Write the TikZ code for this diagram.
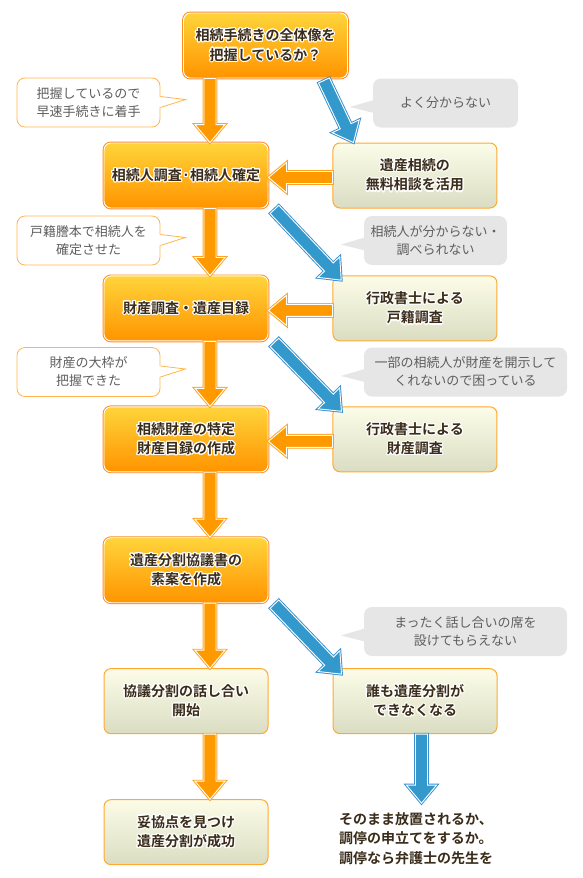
\documentclass[tikz,border=0pt]{standalone}
\usepackage{fontspec}
\setmainfont{Noto Sans CJK JP}[BoldFont={* Bold}]
\usepackage[copies]{contour}
\contourlength{1.1pt}
\usepackage{xcolor}
\usepackage{tikz}
\usetikzlibrary{positioning,calc}

\definecolor{boxtop}{HTML}{FFD43A}
\definecolor{boxbot}{HTML}{FF9400}
\definecolor{boxedge}{HTML}{FF8A1E}
\definecolor{paletop}{HTML}{FCFCE8}
\definecolor{palebot}{HTML}{DADDC2}
\definecolor{paleedge}{HTML}{FFA931}
\definecolor{arrorange}{HTML}{FF9900}
\definecolor{arredge}{HTML}{FFA21F}
\definecolor{arrblue}{HTML}{3399CC}
\definecolor{blueedge}{HTML}{3B8FD0}
\definecolor{tipedge}{HTML}{FFB54D}
\definecolor{tipgrey}{HTML}{E6E6E6}
\definecolor{tiptext}{HTML}{5E5E5E}
\definecolor{txtdark}{HTML}{3A2C1A}

\newcommand\boxfont{\bfseries\fontsize{14}{19.5}\selectfont}
\newcommand\tipfont{\fontsize{13}{18}\selectfont}
\newcommand\halo[1]{\contour{white}{#1}}
\newcommand\fatarrow[3][orangearrow]{%
  \path[#1] let \p1=(#2), \p2=(#3), \n1={atan2(\y2-\y1,\x2-\x1)},
    \n2={veclen(\x2-\x1,\y2-\y1)-18}, \n3={veclen(\x2-\x1,\y2-\y1)} in
    [shift={(\p1)}, rotate=\n1] (0pt,-6pt) -- (\n2*1pt,-6pt) -- (\n2*1pt,-15pt)
    -- (\n3*1pt,0pt) -- (\n2*1pt,15pt) -- (\n2*1pt,6pt) -- (0pt,6pt) -- cycle;}
\newcommand\tipright[1]{%
  \fill[white] ($(#1.east)+(-1.5,6)$) -- ($(#1.east)+(25,3)$) -- ($(#1.east)+(-1.5,-5)$) -- cycle;
  \draw[tipline] ($(#1.east)+(0,6)$) -- ($(#1.east)+(25,3)$) -- ($(#1.east)+(0,-5)$);}
\newcommand\tipleft[1]{%
  \fill[tipgrey] ($(#1.west)+(1,3)$) -- ($(#1.west)+(-23,-4)$) -- ($(#1.west)+(1,-10)$) -- cycle;}

\begin{document}
\begin{tikzpicture}[x=1pt, y=1pt,
  node distance=65pt and 64pt,
  mainbox/.style={rectangle, rounded corners=7pt, minimum width=164pt, minimum height=65pt,
                  top color=boxtop, bottom color=boxbot, draw=white, line width=0.9pt,
                  preaction={draw=boxedge, line width=2.8pt}, align=center,
                  font=\boxfont, text=txtdark},
  palebox/.style={rectangle, rounded corners=7pt, minimum width=164pt, minimum height=65pt,
                  top color=paletop, bottom color=palebot, draw=paleedge, line width=1pt,
                  align=center, font=\boxfont, text=txtdark},
  tipbox/.style={rectangle, rounded corners=8pt, fill=white, draw=tipedge, line width=0.8pt,
                 minimum width=143pt, minimum height=49pt, align=center, font=\tipfont,
                 text=tiptext, inner sep=0pt},
  greytip/.style={rectangle, rounded corners=8pt, fill=tipgrey, minimum height=49pt,
                  align=center, font=\tipfont, text=tiptext, inner sep=0pt},
  tipline/.style={draw=tipedge, line width=0.8pt, line join=miter},
  endtext/.style={align=left, font=\boxfont, text=txtdark, inner sep=0pt},
  orangearrow/.style={fill=arrorange, draw=white, line width=0.9pt,
                      preaction={draw=arredge, line width=2.8pt}},
  bluearrow/.style={fill=arrblue, draw=white, line width=0.9pt,
                    preaction={draw=blueedge, line width=2.8pt}}
]
\useasboundingbox (0,0) rectangle (582,-878);

\node[mainbox] (q) at (265.5,-45.5) {\halo{相続手続きの全体像を}\\\halo{把握しているか？}};
\node[mainbox] (heir) at (186,-175.5) {\halo{相続人調査·相続人確定}};
\node[mainbox, below=67pt of heir] (asset) {\halo{財産調査・遺産目録}};
\node[mainbox, below=of asset] (spec) {\halo{相続財産の特定}\\\halo{財産目録の作成}};
\node[mainbox, below=of spec] (draft) {\halo{遺産分割協議書の}\\\halo{素案を作成}};
\node[palebox, below=of draft] (talk) {\halo{協議分割の話し合い}\\\halo{開始}};
\node[palebox, below=of talk] (deal) {\halo{妥協点を見つけ}\\\halo{遺産分割が成功}};
\node[palebox, right=of heir] (free) {\halo{遺産相続の}\\\halo{無料相談を活用}};
\node[palebox, right=of asset] (koseki) {\halo{行政書士による}\\\halo{戸籍調査}};
\node[palebox, right=of spec] (survey) {\halo{行政書士による}\\\halo{財産調査}};
\node[palebox, right=of talk] (stuck) {\halo{誰も遺産分割が}\\\halo{できなくなる}};
\node[endtext, anchor=west] (ft) at (339,-839)
  {\halo{そのまま放置されるか、}\\\halo{調停の申立てをするか。}\\\halo{調停なら弁護士の先生を}};

\node[tipbox] (t1) at (88.5,-102.5) {把握しているので\\早速手続きに着手};
\node[tipbox] (t2) at (88.5,-240.5) {戸籍謄本で相続人を\\確定させた};
\node[tipbox] (t3) at (88.5,-372) {財産の大枠が\\把握できた};
\node[greytip, minimum width=145pt] (g1) at (445.5,-103) {よく分からない};
\node[greytip, minimum width=143pt] (g2) at (435.5,-240.5) {相続人が分からない・\\調べられない};
\node[greytip, minimum width=203pt] (g3) at (465.5,-372) {一部の相続人が財産を開示して\\くれないので困っている};
\node[greytip, minimum width=203pt] (g4) at (465.5,-631.5) {まったく話し合いの席を\\設けてもらえない};
\tipright{t1}
\tipright{t2}
\tipright{t3}
\tipleft{g1}
\tipleft{g2}
\tipleft{g3}
\tipleft{g4}

\fatarrow{$(q.south -| heir.north)+(24,0)$}{$(heir.north)+(24,0)$}
\fatarrow{$(heir.south)+(24,0)$}{$(asset.north)+(24,0)$}
\fatarrow{$(asset.south)+(24,0)$}{$(spec.north)+(24,0)$}
\fatarrow{$(spec.south)+(24,0)$}{$(draft.north)+(24,0)$}
\fatarrow{$(draft.south)+(24,0)$}{$(talk.north)+(24,0)$}
\fatarrow{$(talk.south)+(24,0)$}{$(deal.north)+(24,0)$}
\fatarrow{$(free.west)+(0,-2)$}{$(heir.east)+(0,-2)$}
\fatarrow{$(koseki.west)+(0,-2)$}{$(asset.east)+(0,-2)$}
\fatarrow{$(survey.west)+(0,-2)$}{$(spec.east)+(0,-2)$}
\fatarrow[bluearrow]{$(q.south east)+(-24,-2)$}{$(free.north west)+(21,0)$}
\fatarrow[bluearrow]{$(heir.south east)+(6,-1)$}{$(koseki.north west)+(9,-5)$}
\fatarrow[bluearrow]{$(asset.south east)+(6,-1)$}{$(survey.north west)+(9,-5)$}
\fatarrow[bluearrow]{$(draft.south east)+(6,-1)$}{$(stuck.north west)+(9,-6)$}
\fatarrow[bluearrow]{$(stuck.south)+(6.5,0)$}{$(ft.north -| stuck.south)+(6.5,9)$}
\end{tikzpicture}
\end{document}
